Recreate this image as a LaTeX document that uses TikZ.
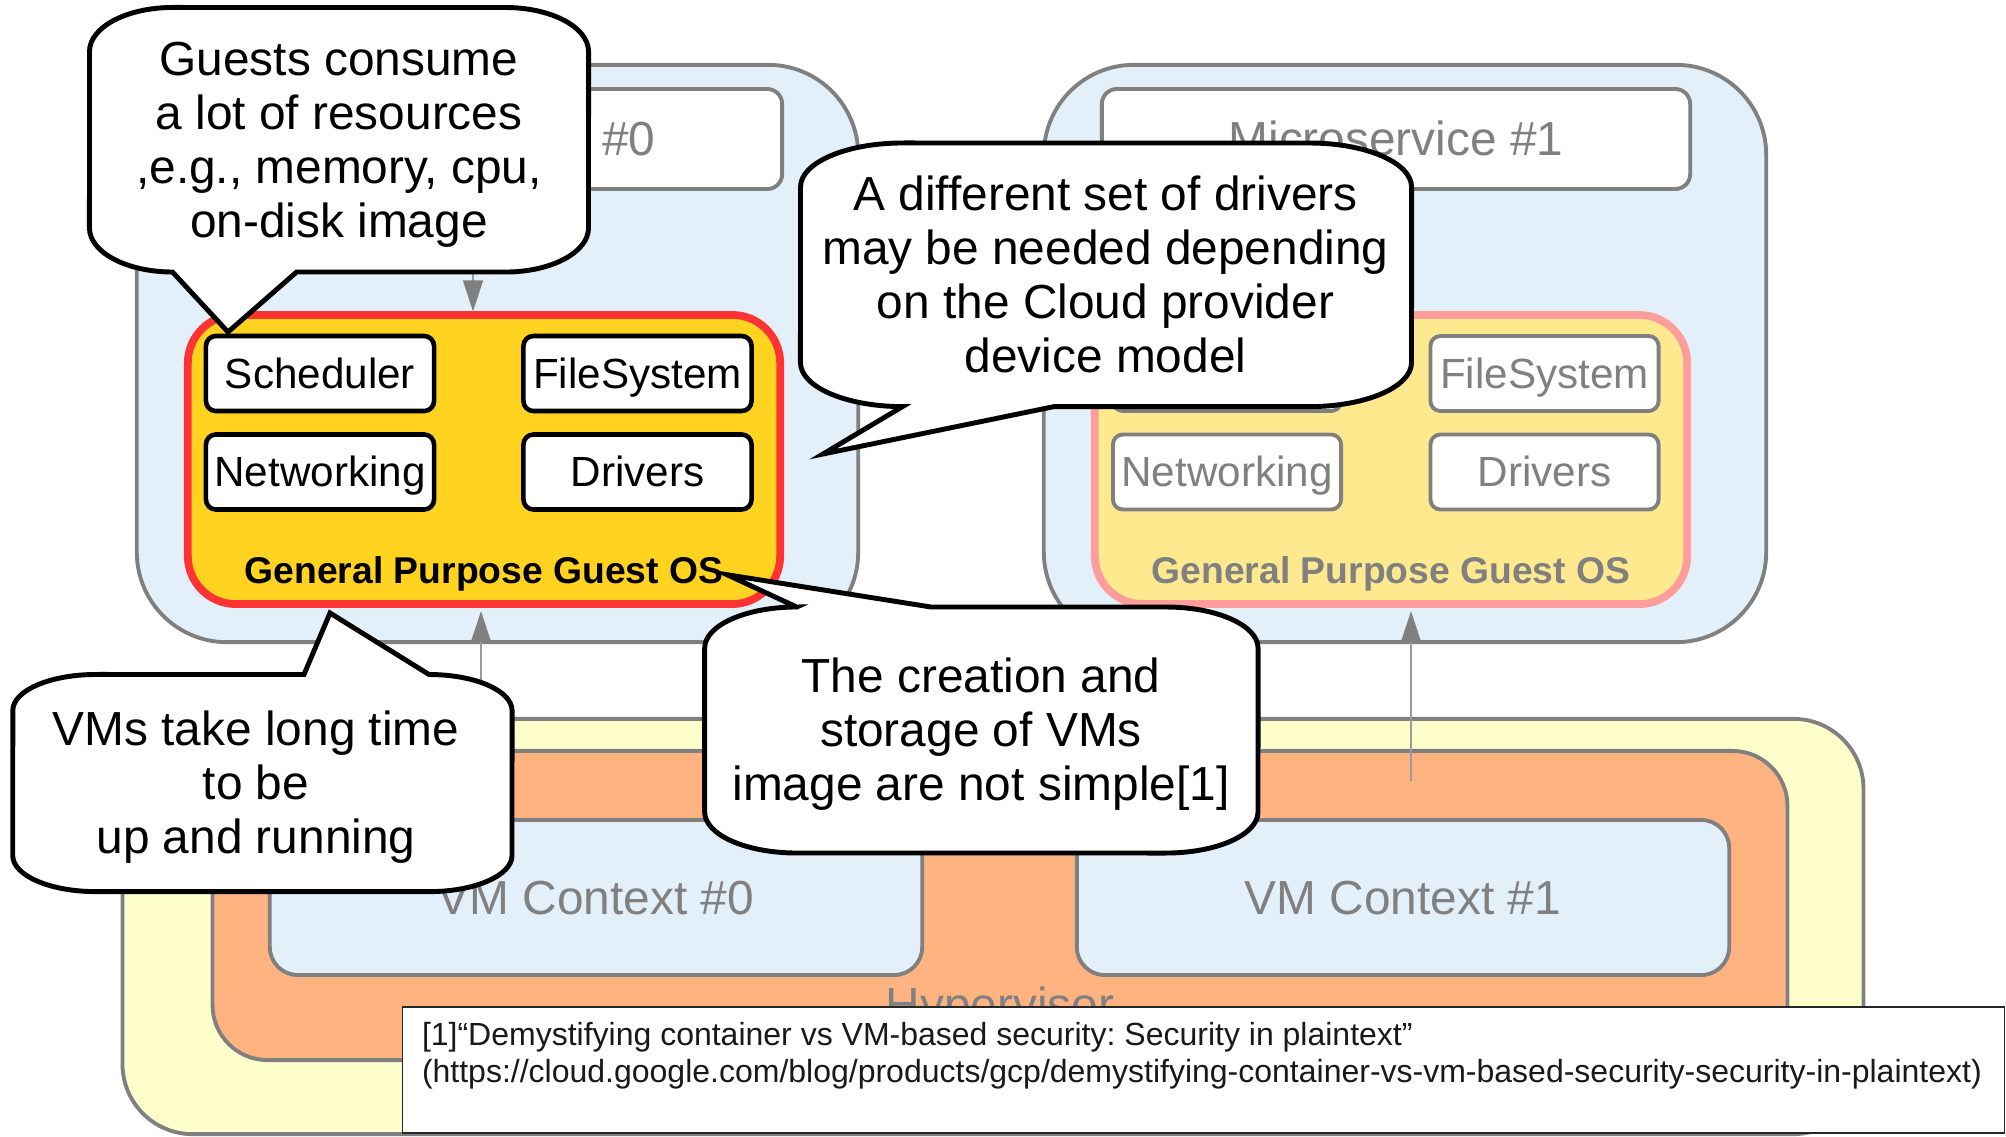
\documentclass[tikz,border=0pt]{standalone}
\usepackage{fontspec}
\setmainfont{Liberation Sans}
\usetikzlibrary{arrows.meta}
\frenchspacing

\definecolor{vmblue}{HTML}{E4F0F9}
\definecolor{edgegray}{HTML}{808080}
\definecolor{osgold}{HTML}{FFD320}
\definecolor{osred}{HTML}{FF3333}
\definecolor{osgoldpale}{HTML}{FFE98F}
\definecolor{osredpale}{HTML}{FF9C9C}
\definecolor{hvyellow}{HTML}{FFFFCC}
\definecolor{hvorange}{HTML}{FFB380}
\definecolor{linkgray}{HTML}{9A9A9A}

% invisible strut: one full line box (ascent + descent) of the current font
\newcommand{\lb}{\rule[-0.212em]{0pt}{1.117em}}
\newcommand{\calloutfont}{\fontsize{13.6}{15.3}\selectfont}
\newcommand{\partfont}{\fontsize{12}{14}\selectfont}
\newcommand{\osfont}{\fontsize{10.6}{12}\selectfont\bfseries}
\newcommand{\notefont}{\fontsize{9.1}{10.5}\selectfont}

\begin{document}
\begin{tikzpicture}[x=0.01cm, y=0.01cm,
  every node/.style={inner sep=0pt, outer sep=0pt},
  vmbox/.style={draw=edgegray, fill=vmblue, line width=1.1pt, rounded corners=0.9cm},
  msbox/.style={draw=edgegray, fill=white, line width=1.1pt, rounded corners=0.15cm,
    minimum width=5.88cm, minimum height=1cm, text=edgegray, font=\calloutfont},
  osbox/.style={fill=osgold, draw=osred, line width=2.2pt, rounded corners=0.48cm,
    minimum width=5.92cm, minimum height=2.89cm},
  osboxpale/.style={osbox, fill=osgoldpale, draw=osredpale},
  part/.style={draw=black, fill=white, line width=1.3pt, rounded corners=0.1cm,
    minimum width=2.28cm, minimum height=0.75cm, font=\partfont},
  partpale/.style={part, draw=edgegray, text=edgegray, line width=1.1pt},
  oslabel/.style={font=\osfont},
  hvbox/.style={draw=edgegray, line width=1.1pt},
  ctxbox/.style={draw=edgegray, fill=vmblue, line width=1.1pt, rounded corners=0.28cm,
    minimum width=6.52cm, minimum height=1.55cm, text=edgegray, font=\calloutfont},
  link/.style={draw=linkgray, line width=0.5pt,
    -{Triangle[length=0.31cm, width=0.2cm, color=edgegray]}},
  callout/.style={draw=black, fill=white, line width=1.4pt},
  callouttext/.style={align=center, font=\calloutfont},
  refbox/.style={draw=black!85, fill=white, line width=0.4pt,
    minimum width=16.01cm, minimum height=1.26cm},
]
\useasboundingbox (0,0) rectangle (2006,-1136);

% ---------- virtual machines ----------
\node[vmbox, minimum width=7.21cm, minimum height=5.77cm] (vm0) at (497.5,-353.5) {};
\node[vmbox, minimum width=7.22cm, minimum height=5.77cm] (vm1) at (1405,-353.5) {};

\node[msbox] (ms0) at (488,-139) {\lb Microservice \#0};
\node[msbox] (ms1) at (1396,-139) {\lb Microservice \#1};

% guest operating systems
\node[osbox] (os0) at (484,-459.5) {};
\node[part] (sch0) at (320,-373.5)   {\lb Scheduler};
\node[part] (fs0)  at (637.5,-373.5) {\lb FileSystem};
\node[part] (net0) at (320,-472)     {\lb Networking};
\node[part] (drv0) at (637.5,-472)   {\lb Drivers};
\node[oslabel] (osl0) at (484,-571) {\lb General Purpose Guest OS};

\node[osboxpale] (os1) at (1391,-459.5) {};
\node[partpale] (sch1) at (1227,-373.5)   {\lb Scheduler};
\node[partpale] (fs1)  at (1544.5,-373.5) {\lb FileSystem};
\node[partpale] (net1) at (1227,-472)     {\lb Networking};
\node[partpale] (drv1) at (1544.5,-472)   {\lb Drivers};
\node[oslabel, text=edgegray] (osl1) at (1391,-571) {\lb General Purpose Guest OS};

% ---------- hypervisor ----------
\node[hvbox, fill=hvyellow, rounded corners=0.7cm, minimum width=17.4cm, minimum height=4.15cm]
  (host) at (993,-926.5) {};
\node[hvbox, fill=hvorange, rounded corners=0.55cm, minimum width=15.74cm, minimum height=3.09cm]
  (hv) at (1000,-905.5) {};
\node[ctxbox] (ctx0) at (596,-897.5)  {\lb VM Context \#0};
\node[ctxbox] (ctx1) at (1403,-897.5) {\lb VM Context \#1};
\node[font=\calloutfont, text=edgegray] (hvl) at (1000,-1005) {\lb Hypervisor};

% ---------- connectors ----------
\coordinate (d0) at (473,-139);
\coordinate (d1) at (1380,-139);
\coordinate (u0) at (481,-781);
\coordinate (u1) at (1411,-781);
\draw[link, shorten >=0.035cm] (d0 |- ms0.south) -- (d0 |- os0.north);
\draw[link, shorten >=0.035cm] (d1 |- ms1.south) -- (d1 |- os1.north);
\draw[link, shorten >=0.07cm] (u0) -- (u0 |- os0.south);
\draw[link, shorten >=0.07cm] (u1) -- (u1 |- os1.south);

% ---------- callouts ----------
\draw[callout] (172.5,-7.5) -- (505.5,-7.5)
  arc[start angle=90, end angle=0, x radius=0.83cm, y radius=0.44cm] -- (588.5,-228)
  arc[start angle=0, end angle=-90, x radius=0.83cm, y radius=0.44cm]
  -- (296.6,-272) -- (228,-332) -- (172.5,-272)
  arc[start angle=270, end angle=180, x radius=0.83cm, y radius=0.44cm] -- (89.5,-51.5)
  arc[start angle=180, end angle=90, x radius=0.83cm, y radius=0.44cm] -- cycle;
\node[callouttext] (c1) at (339,-140)
  {\lb Guests consume\\\lb a lot of resources\\\lb ,e.g., memory, cpu,\\\lb on-disk image};

\draw[callout] (902.5,-143) -- (1309.5,-143)
  arc[start angle=90, end angle=0, x radius=1.02cm, y radius=0.44cm] -- (1411.5,-362.6)
  arc[start angle=0, end angle=-90, x radius=1.02cm, y radius=0.44cm]
  -- (1054,-406.6) -- (823,-454) -- (902.5,-406.6)
  arc[start angle=270, end angle=180, x radius=1.02cm, y radius=0.44cm] -- (800.5,-187)
  arc[start angle=180, end angle=90, x radius=1.02cm, y radius=0.44cm] -- cycle;
\node[callouttext] (c2) at (1105.5,-275)
  {\lb A different set of drivers\\\lb may be needed depending\\\lb on the Cloud provider\\\lb device model};

\draw[callout] (95.8,-674.5) -- (304,-674.5) -- (330,-613) -- (429,-674.5)
  arc[start angle=90, end angle=0, x radius=0.83cm, y radius=0.36cm] -- (512,-855.6)
  arc[start angle=0, end angle=-90, x radius=0.83cm, y radius=0.36cm] -- (95.8,-891.6)
  arc[start angle=270, end angle=180, x radius=0.83cm, y radius=0.36cm] -- (12.8,-710.5)
  arc[start angle=180, end angle=90, x radius=0.83cm, y radius=0.36cm] -- cycle;
\node[callouttext] (c3) at (256,-783)
  {\lb VMs take long time\\\lb to be\\\lb up and running};

\draw[callout] (796.7,-607) -- (727,-574.7) -- (931,-607) -- (1166,-607)
  arc[start angle=90, end angle=0, x radius=0.92cm, y radius=0.41cm] -- (1258,-812)
  arc[start angle=0, end angle=-90, x radius=0.92cm, y radius=0.41cm] -- (796.7,-853)
  arc[start angle=270, end angle=180, x radius=0.92cm, y radius=0.41cm] -- (704.7,-648)
  arc[start angle=180, end angle=90, x radius=0.92cm, y radius=0.41cm] -- cycle;
\node[callouttext] (c4) at (981,-730)
  {\lb The creation and\\\lb storage of VMs\\\lb image are not simple[1]};

% ---------- reference ----------
\node[refbox] (ref) at (1203.5,-1070) {};
\node[anchor=west, align=left, font=\notefont, text=black!90] (reftext) at (422,-1053)
  {\lb [1]“Demystifying container vs VM-based security: Security in plaintext”\\
   \lb (https://cloud.google.com/blog/products/gcp/demystifying-container-vs-vm-based-security-security-in-plaintext)};
\end{tikzpicture}
\end{document}
